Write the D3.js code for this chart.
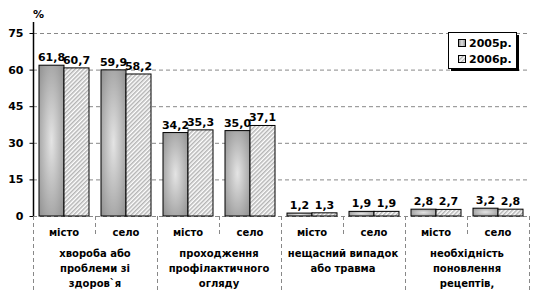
<!DOCTYPE html>
<html>
<head>
<meta charset="utf-8">
<script src="https://cdn.jsdelivr.net/npm/d3@7"></script>
<style>
  body { margin: 0; background: #fff; }
  text { font-family: "DejaVu Sans", Verdana, sans-serif; font-weight: bold; fill: #000; }
</style>
</head>
<body>
<div id="container"></div>
<script>
/* DATA */
const groups = ["хвороба або|проблеми зі|здоров`я", "проходження|профілактичного|огляду", "нещасний випадок|або травма", "необхідність|поновлення|рецептів,"];
const places = ["місто", "село"];
const series = ["2005р.", "2006р."];
const values2005 = [61.8, 59.9, 34.2, 35.0, 1.2, 1.9, 2.8, 3.2];
const values2006 = [60.7, 58.2, 35.3, 37.1, 1.3, 1.9, 2.7, 2.8];
const yTicks = [0, 15, 30, 45, 60, 75];

/* CONSTANTS */
const width = 542, height = 296;
const margin = { top: 33, left: 33, right: 13, bottom: 80 };

const slots = [];
groups.forEach((g, gi) => places.forEach((p, pi) => slots.push({ key: gi + "-" + pi, group: gi, place: p })));
const rows = slots.map((s, i) => ({ ...s, v: [values2005[i], values2006[i]] }));

const svg = d3.select("#container").append("svg")
  .attr("width", width).attr("height", height);

const defs = svg.append("defs");
const grad = defs.append("radialGradient").attr("id", "g05")
  .attr("cx", "50%").attr("cy", "50%").attr("r", "75%");
grad.append("stop").attr("offset", "0%").attr("stop-color", "#e4e4e4");
grad.append("stop").attr("offset", "100%").attr("stop-color", "#8a8a8a");
const hgrad = defs.append("linearGradient").attr("id", "g05h");
hgrad.append("stop").attr("offset", "0%").attr("stop-color", "#8e8e8e");
hgrad.append("stop").attr("offset", "50%").attr("stop-color", "#dedede");
hgrad.append("stop").attr("offset", "100%").attr("stop-color", "#8e8e8e");
const pat = defs.append("pattern").attr("id", "hatch")
  .attr("patternUnits", "userSpaceOnUse").attr("width", 3).attr("height", 3)
  .attr("patternTransform", "rotate(45)");
pat.append("rect").attr("width", 3).attr("height", 3).attr("fill", "#fff");
pat.append("rect").attr("width", 1.5).attr("height", 3).attr("fill", "#b4b4b4");

const x0 = d3.scaleBand().domain(slots.map(s => s.key))
  .range([margin.left, width - margin.right]).paddingInner(0).paddingOuter(0);
const x1 = d3.scaleBand().domain([0, 1]).range([0, x0.bandwidth()]).paddingOuter(0.24);
const y = d3.scaleLinear().domain([0, 75]).range([height - margin.bottom, margin.top]);

// gridlines
svg.append("g").selectAll("line").data(yTicks).join("line")
  .attr("x1", margin.left).attr("x2", width - margin.right)
  .attr("y1", d => y(d) + 0.5).attr("y2", d => y(d) + 0.5)
  .attr("stroke", "#888").attr("stroke-dasharray", "4,3");

// y axis
const yAxis = svg.append("g").attr("transform", `translate(${margin.left + 0.5},0)`)
  .call(d3.axisLeft(y).tickValues(yTicks).tickSize(4).tickPadding(6));
yAxis.select(".domain").attr("d", `M0,${y(0)}V${margin.top - 11}`).attr("stroke", "#000").attr("stroke-width", 1.5);
yAxis.selectAll("text").style("font-size", "11px");
svg.append("text").attr("x", 33).attr("y", 18).style("font-size", "11px").text("%");

// vertical separators
const bounds = d3.range(slots.length + 1);
svg.append("g").selectAll("line").data(bounds).join("line")
  .attr("x1", i => margin.left + i * x0.bandwidth() + 0.5)
  .attr("x2", i => margin.left + i * x0.bandwidth() + 0.5)
  .attr("y1", y(0))
  .attr("y2", i => i % 2 === 0 ? 292 : 234)
  .attr("stroke", "#888").attr("stroke-dasharray", "4,3");

// bars
const bars = svg.append("g").selectAll("g").data(rows).join("g")
  .attr("transform", d => `translate(${x0(d.key)},0)`);
bars.selectAll("rect").data(d => d.v).join("rect")
  .attr("x", (d, i) => x1(i)).attr("width", x1.bandwidth())
  .attr("y", d => y(d)).attr("height", d => y(0) - y(d))
  .attr("fill", (d, i) => i === 0 ? "url(#g05)" : "url(#hatch)")
  .attr("stroke", "#000").attr("stroke-width", 1);
bars.selectAll("text.v").data(d => d.v).join("text").attr("class", "v")
  .attr("x", (d, i) => x1(i) + x1.bandwidth() / 2)
  .attr("y", d => y(d) - 4)
  .attr("text-anchor", "middle").style("font-size", "11px")
  .text(d => d3.format(".1f")(d).replace(".", ","));

// place labels
svg.append("g").selectAll("text").data(rows).join("text")
  .attr("x", d => x0(d.key) + x0.bandwidth() / 2).attr("y", 236)
  .attr("text-anchor", "middle").style("font-size", "10px").text(d => d.place);

// group labels
const gl = svg.append("g").selectAll("text").data(groups).join("text")
  .attr("x", (d, i) => margin.left + (i * 2 + 1) * x0.bandwidth())
  .attr("y", 257).attr("text-anchor", "middle").style("font-size", "10px");
gl.selectAll("tspan").data(d => d.split("|")).join("tspan")
  .attr("x", function () { return this.parentNode.getAttribute("x"); })
  .attr("dy", (d, i) => i === 0 ? 0 : 15).text(d => d);

// legend
const lg = svg.append("g").attr("transform", "translate(448,32)");
lg.append("rect").attr("x", 3).attr("y", 3).attr("width", 68).attr("height", 36).attr("fill", "#000");
lg.append("rect").attr("x", 0.5).attr("y", 0.5).attr("width", 68).attr("height", 36).attr("fill", "#fff").attr("stroke", "#000");
series.forEach((s, i) => {
  lg.append("rect").attr("x", 10.5).attr("y", 7.5 + i * 16).attr("width", 7).attr("height", 7)
    .attr("fill", i === 0 ? "url(#g05h)" : "url(#hatch)").attr("stroke", "#000");
  lg.append("text").attr("x", 21).attr("y", 15 + i * 16).style("font-size", "11px").text(s);
});
</script>
</body>
</html>
